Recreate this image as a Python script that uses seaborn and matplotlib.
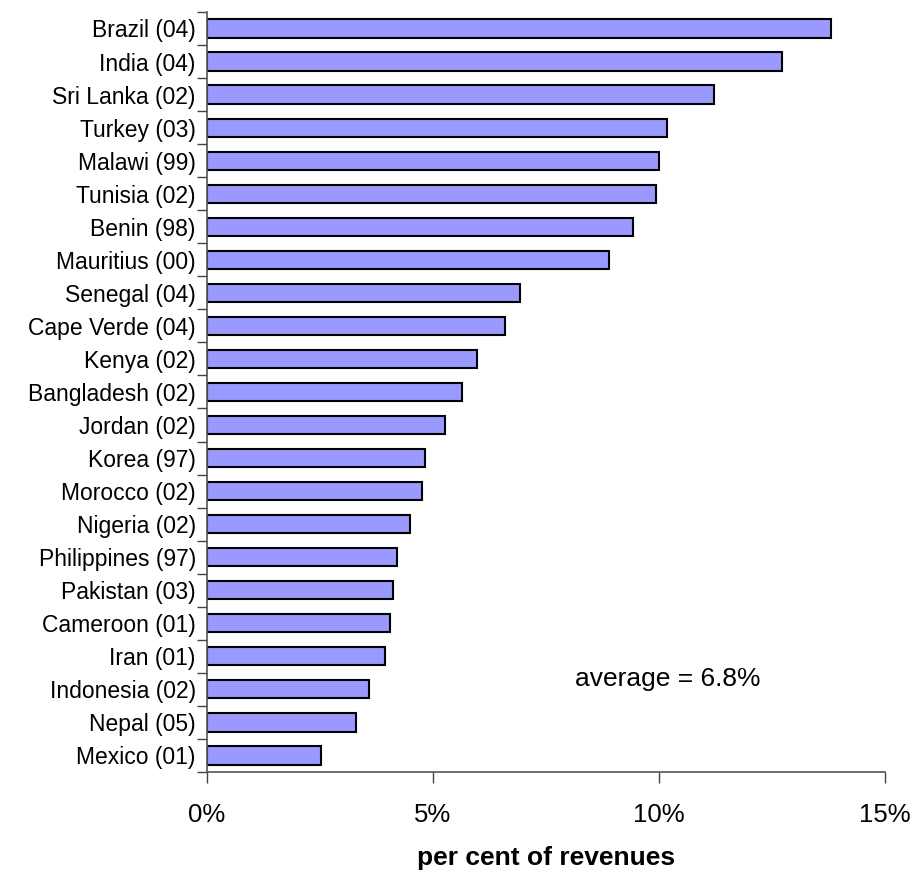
import numpy as np
import pandas as pd
import matplotlib
matplotlib.use("Agg")
import matplotlib.pyplot as plt
import seaborn as sns
from matplotlib.ticker import FixedLocator, FuncFormatter

# 数据
countries = ["Brazil (04)", "India (04)", "Sri Lanka (02)", "Turkey (03)", "Malawi (99)",
             "Tunisia (02)", "Benin (98)", "Mauritius (00)", "Senegal (04)", "Cape Verde (04)",
             "Kenya (02)", "Bangladesh (02)", "Jordan (02)", "Korea (97)", "Morocco (02)",
             "Nigeria (02)", "Philippines (97)", "Pakistan (03)", "Cameroon (01)", "Iran (01)",
             "Indonesia (02)", "Nepal (05)", "Mexico (01)"]
share = [13.8, 12.73, 11.22, 10.18, 9.99,
         9.94, 9.42, 8.9, 6.93, 6.6,
         5.98, 5.65, 5.27, 4.83, 4.75,
         4.5, 4.2, 4.11, 4.06, 3.93,
         3.59, 3.29, 2.52]
xticks = [0, 5, 10, 15]
avg_text = "average = 6.8%"

df = pd.DataFrame({"country": countries, "share": share})

sns.set_style("white")
plt.rcParams['font.family'] = ['Liberation Sans', 'DejaVu Sans']
plt.rcParams['text.color'] = 'black'
plt.rcParams['axes.labelcolor'] = 'black'
plt.rcParams['xtick.labelcolor'] = 'black'
plt.rcParams['ytick.labelcolor'] = 'black'

fig = plt.figure(figsize=(9.15, 8.73), dpi=100)
ax = fig.add_axes([0.2262, 0.1157, 0.741, 0.8706])

sns.barplot(data=df, y="country", x="share", orient="h", color="#9999FF",
            saturation=1, edgecolor="black", linewidth=1.5, width=0.55, ax=ax)

ax.set_xlim(0, 15)
ax.set_ylim(len(countries) - 0.5, -0.5)
ax.set_xticks(xticks)
ax.xaxis.set_major_formatter(FuncFormatter(lambda v, p: f"{v:.0f}%"))
ax.tick_params(axis="x", length=8, width=1, color="#444444", labelsize=18.5, pad=14,
               bottom=True)

# y 轴刻度放在类别之间
ax.yaxis.set_minor_locator(FixedLocator(np.arange(-0.5, len(countries), 1.0)))
ax.tick_params(axis="y", which="major", length=0, labelsize=16.5, pad=8)
ax.tick_params(axis="y", which="minor", length=7, width=1, color="#444444", left=True)

for s in ["top", "right"]:
    ax.spines[s].set_visible(False)
for s in ["left", "bottom"]:
    ax.spines[s].set_color("#555555")
    ax.spines[s].set_linewidth(1.2)

ax.set_ylabel("")
ax.set_xlabel("per cent of revenues", fontsize=19, fontweight="bold", labelpad=14)

ax.text(10.2, 19.7, avg_text, ha="center", va="center", fontsize=19)

fig.savefig("out.png", dpi=100)
